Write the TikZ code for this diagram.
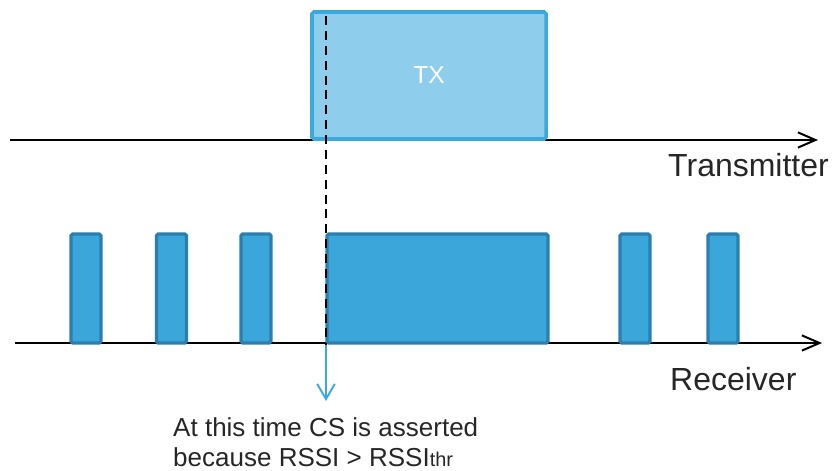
\documentclass[tikz,border=0pt]{standalone}
\usepackage{fontspec}
\setmainfont{Liberation Sans}
\usetikzlibrary{arrows.meta, positioning}
\definecolor{txfill}{HTML}{8ECDEB}
\definecolor{txline}{HTML}{3AA9DC}
\definecolor{rxfill}{HTML}{3AA6DA}
\definecolor{rxline}{HTML}{2A7FAE}

\begin{document}
\begin{tikzpicture}[x=0.03cm, y=-0.03cm, >={Straight Barb[length=15pt, width=13pt]}]
	\tikzstyle{txbox} = [draw=txline, fill=txfill, line width=3pt, rounded corners=1.5pt, inner sep=0pt]
	\tikzstyle{rxbox} = [draw=rxline, fill=rxfill, line width=2.8pt, rounded corners=1.5pt, inner sep=0pt, minimum height=3.27cm]
	\tikzstyle{pulse} = [rxbox, minimum width=0.9cm]
	\tikzstyle{axis} = [line width=1.7pt, ->]
	\tikzstyle{label} = [inner sep=0pt, text=black!85, font=\fontsize{27.3}{32}\selectfont]
	
	\useasboundingbox (0,0) rectangle (837,470);
	
	% time axes
	\coordinate (t0) at (10,140);
	\coordinate (t1) at (818,140);
	\coordinate (r0) at (15,343);
	\coordinate (r1) at (822,343);
	\draw[axis] (t0) -- (t1);
	\draw[axis] (r0) -- (r1);
	
	% transmitter
	\node[txbox, minimum width=7.02cm, minimum height=3.81cm, text=white, font=\fontsize{21}{24}\selectfont] at (429,75.5) (tx) {TX};
	\node[label, anchor=base west] at (668,176) (txname) {Transmitter};
	
	% receiver
	\foreach \x [count=\i] in {86, 171.5, 256, 635, 723}
		\node[pulse] at (\x,288.5) (p\i) {};
	\node[rxbox, minimum width=6.63cm] at (437.5,288.5) (rx) {};
	\node[label, anchor=base west] at (670,390) (rxname) {Receiver};
	
	% carrier sense
	\coordinate (cs0) at (326,16);
	\coordinate (cs1) at (326,345);
	\coordinate (cs2) at (326,401);
	\draw[line width=2pt, dash pattern=on 7.7pt off 5pt] (cs0) -- (cs1);
	\draw[->, >={Straight Barb[length=13pt, width=15pt]}, txline, line width=1.6pt] (cs1) -- (cs2);
	\node[inner sep=0pt, anchor=north west, align=left, text=black!85, font=\fontsize{22.2}{25.6}\selectfont] at (173,417) (note)
		{At this time CS is asserted\\because RSSI > RSSI{\fontsize{17}{20}\selectfont thr}};
\end{tikzpicture}
\end{document}
